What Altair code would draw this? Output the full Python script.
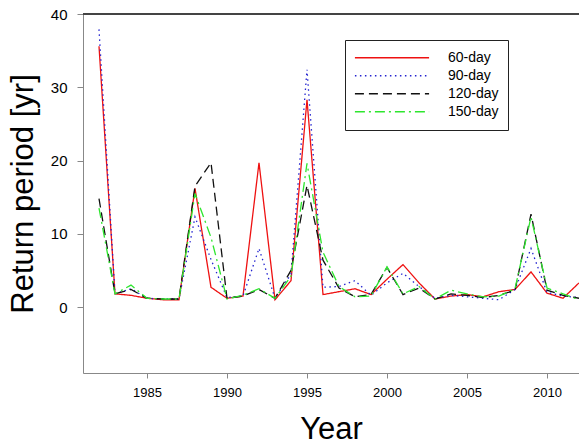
import altair as alt
import pandas as pd

years = list(range(1982, 2013))
series_names = ["60-day", "90-day", "120-day", "150-day"]
d60 = [35.6, 1.8, 1.6, 1.2, 1.0, 1.0, 16.2, 2.7, 1.2, 1.5, 19.7, 1.0, 3.6, 28.3, 1.7, 2.1,
       2.5, 1.7, 3.8, 5.8, 3.3, 1.1, 1.5, 1.7, 1.4, 2.1, 2.4, 4.8, 1.9, 1.2, 3.3]
d90 = [37.9, 1.8, 2.5, 1.2, 1.1, 1.1, 12.3, 6.5, 1.3, 1.5, 8.0, 1.2, 4.5, 32.4, 2.7, 2.8,
       3.6, 1.6, 3.3, 4.6, 2.8, 1.2, 1.6, 1.4, 1.2, 1.0, 2.4, 8.0, 2.0, 1.5, 1.3]
d120 = [14.8, 1.8, 2.4, 1.2, 1.1, 1.1, 16.5, 19.7, 1.2, 1.5, 2.4, 1.2, 5.0, 16.6, 6.4, 2.6,
        1.4, 1.7, 5.4, 1.7, 2.6, 1.1, 1.8, 1.6, 1.3, 1.6, 2.3, 12.7, 2.3, 1.6, 1.2]
d150 = [13.5, 1.8, 3.0, 1.2, 1.1, 1.1, 15.5, 9.5, 1.1, 1.6, 2.5, 1.2, 4.2, 19.6, 7.5, 2.8,
        1.4, 1.5, 5.5, 1.8, 2.8, 1.1, 2.3, 1.8, 1.4, 1.5, 2.5, 12.3, 2.6, 1.8, 1.0]
x_ticks = [1985, 1990, 1995, 2000, 2005, 2010]
y_ticks = [0, 10, 20, 30, 40]

rows = []
for name, vals in zip(series_names, [d60, d90, d120, d150]):
    for yr, v in zip(years, vals):
        rows.append({"Year": yr, "value": v, "series": name})
df = pd.DataFrame(rows)

W, H = 496, 359
FONT = "Liberation Sans"

legend_cfg = dict(title=None, orient="none", legendX=262, legendY=26,
                  symbolType="stroke", symbolSize=5500,
                  symbolStrokeWidth=1.4, clipHeight=17.5,
                  labelOffset=18, labelFontSize=14, rowPadding=0,
                  strokeColor="#222222", padding=9, labelFont=FONT)

lines = alt.Chart(df).mark_line(clip=True, strokeWidth=1.3).encode(
    x=alt.X("Year:Q",
            scale=alt.Scale(domain=[1981, 2012], nice=False, zero=False),
            axis=alt.Axis(values=x_ticks, format="d", title="Year", grid=False,
                          tickSize=5, labelPadding=8, labelFontSize=13,
                          titleFontSize=31, titleFontWeight="normal",
                          titleX=W / 2, titleY=65, titleBaseline="alphabetic",
                          titleAlign="center")),
    y=alt.Y("value:Q",
            scale=alt.Scale(domain=[-9, 40], nice=False, zero=False),
            axis=alt.Axis(values=y_ticks, title="Return period [yr]", grid=False,
                          tickSize=6, labelPadding=10, labelFontSize=15,
                          titleFontSize=31, titleFontWeight="normal",
                          titleX=-51, titleY=H / 2, titleBaseline="alphabetic",
                          titleAlign="center", titleAngle=270)),
    color=alt.Color("series:N",
                    scale=alt.Scale(domain=series_names,
                                    range=["#ee1111", "#2323d0", "#111111", "#2ee62e"]),
                    legend=alt.Legend(**legend_cfg)),
    strokeDash=alt.StrokeDash("series:N",
                              scale=alt.Scale(domain=series_names,
                                              range=[[1, 0], [1.5, 3.5], [9, 5], [10, 4, 2, 4]]),
                              legend=alt.Legend(**legend_cfg)),
    order=alt.Order("Year:Q"),
)

top_border = alt.Chart(df).mark_rule(color="#444444", strokeWidth=1.2).encode(
    y=alt.value(0), x=alt.value(0), x2=alt.value(W + 2)
)

chart = alt.layer(lines, top_border).properties(
    width=W, height=H,
    autosize=alt.AutoSizeParams(type="none"),
    padding={"left": 83, "top": 14, "right": 0, "bottom": 75},
).configure_view(stroke=None).configure_axis(
    domainColor="#444444", tickColor="#444444", domainWidth=1.2,
    labelColor="#111111", titleColor="#000000",
    labelFont=FONT, titleFont=FONT,
).configure(background="white")

chart.save("out.html", embed_options={"renderer": "svg", "actions": False})
